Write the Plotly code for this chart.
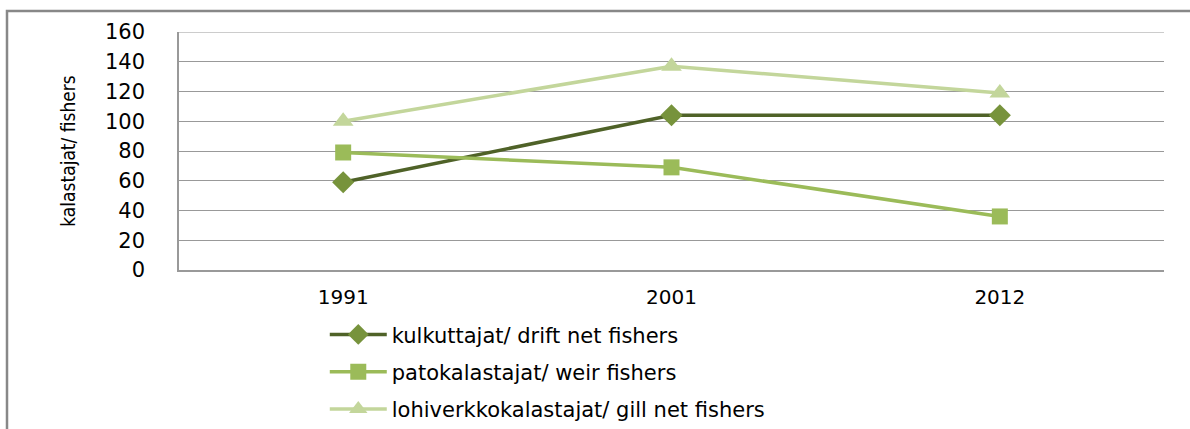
import plotly.graph_objects as go

years = ["1991", "2001", "2012"]
drift = [59, 104, 104]
weir = [79, 69, 36]
gill = [100, 137, 119]
names = ["kulkuttajat/ drift net fishers",
         "patokalastajat/ weir fishers",
         "lohiverkkokalastajat/ gill net fishers"]
y_ticks = [0, 20, 40, 60, 80, 100, 120, 140, 160]

fig = go.Figure()
fig.add_trace(go.Scatter(x=years, y=drift, name=names[0], mode="lines+markers",
                         legendgroup="a",
                         line=dict(color="#4F6228", width=3.5),
                         marker=dict(symbol="diamond", size=17, color="#77933C")))
fig.add_trace(go.Scatter(x=years, y=weir, name=names[1], mode="lines+markers",
                         legendgroup="b",
                         line=dict(color="#9BBB59", width=3.5),
                         marker=dict(symbol="square", size=16, color="#9BBB59")))
fig.add_trace(go.Scatter(x=years, y=gill, name=names[2], mode="lines+markers",
                         legendgroup="c",
                         line=dict(color="#C3D69B", width=3.5),
                         marker=dict(symbol="triangle-up", size=18, color="#C3D69B")))

fig.update_layout(
    width=1190, height=429,
    margin=dict(l=179, r=26, t=32, b=159, autoexpand=False),
    paper_bgcolor="white", plot_bgcolor="white",
    font=dict(family="DejaVu Sans", size=20, color="#000000"),
    xaxis=dict(type="category", range=[-0.5, 2.5], showgrid=False,
               showline=True, linecolor="#999999", linewidth=1.5,
               automargin=False, ticks="outside", ticklen=8,
               tickcolor="rgba(0,0,0,0)",
               tickfont=dict(size=20, family="DejaVu Sans")),
    yaxis=dict(range=[0, 160], tickvals=y_ticks, showgrid=True,
               gridcolor="#999999", gridwidth=1.2,
               showline=True, linecolor="#999999", linewidth=1.5,
               automargin=False, ticks="outside", ticklen=28,
               tickcolor="rgba(0,0,0,0)",
               tickfont=dict(size=21, family="DejaVu Sans"),
               title=dict(text="kalastajat/ fishers",
                          font=dict(family="Liberation Sans Narrow, DejaVu Sans Condensed, sans-serif",
                                    size=19),
                          standoff=24)),
    legend=dict(x=0.148, xanchor="left", y=-0.186, yanchor="top",
                font=dict(size=21, family="DejaVu Sans"),
                itemwidth=57, tracegroupgap=7,
                bgcolor="rgba(0,0,0,0)"),
    shapes=[dict(type="rect", xref="paper", yref="paper",
                 x0=-172/985, x1=1.1, y0=-0.8, y1=1 + 21/238,
                 line=dict(color="#888888", width=2.5), layer="below")],
)
fig.add_shape(type="line", xref="paper", yref="y", x0=0, x1=1, y0=160, y1=160,
              line=dict(color="#999999", width=1.2))

fig.write_html("out.html", config={"displayModeBar": False},
               post_script="document.body.style.margin='0';")
